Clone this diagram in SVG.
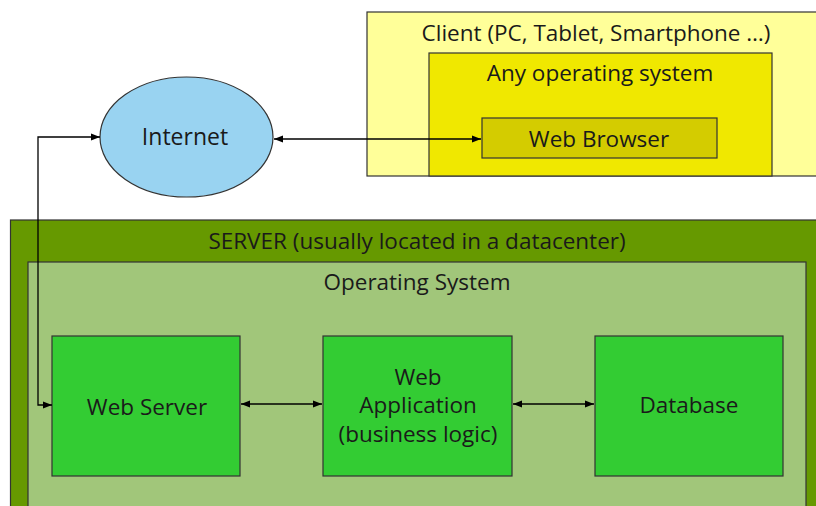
<svg xmlns="http://www.w3.org/2000/svg" width="816" height="506" viewBox="0 0 816 506">
<defs>
<marker id="ah" viewBox="0 0 10 10" refX="10" refY="5" markerWidth="9" markerHeight="9" markerUnits="userSpaceOnUse" orient="auto-start-reverse">
<path d="M0,1 L10,5 L0,9 Z" fill="#000"/>
</marker>
<style>
text{font-family:"Open Sans","Liberation Sans",Arial,sans-serif;font-size:22.5px;fill:#1a1a1a;text-anchor:middle;dominant-baseline:central}
.box{stroke:#333;stroke-width:1.2}
.con{fill:none;stroke:#000;stroke-width:1.3}
</style>
</defs>
<rect width="816" height="506" fill="#fff"/>
<g id="client">
<rect class="box" x="367" y="12" width="460" height="164" fill="#ffff99"/>
<text x="596" y="32">Client (PC, Tablet, Smartphone …)</text>
</g>
<g id="client-os">
<rect class="box" x="429" y="53" width="343" height="123" fill="#f0e800"/>
<text x="600" y="72">Any operating system</text>
</g>
<g id="web-browser">
<rect class="box" x="482" y="118" width="235" height="40" fill="#d4cc00"/>
<text x="599" y="138">Web Browser</text>
</g>
<g id="internet">
<ellipse class="box" cx="186.5" cy="137" rx="86.5" ry="60" fill="#99d3f1" stroke="#2a3a4a"/>
<text x="185" y="136" style="font-size:23px">Internet</text>
</g>
<g id="server">
<rect class="box" x="10.5" y="220" width="820" height="300" fill="#669900"/>
<text x="417" y="240">SERVER (usually located in a datacenter)</text>
</g>
<g id="server-os">
<rect class="box" x="28" y="262" width="778" height="260" fill="#a1c67a"/>
<text x="417" y="281">Operating System</text>
</g>
<g id="web-server">
<rect class="box" x="52" y="336" width="188" height="140" fill="#33cc33"/>
<text x="147" y="406">Web Server</text>
</g>
<g id="web-application">
<rect class="box" x="323" y="336" width="189" height="140" fill="#33cc33"/>
<text x="418" y="376">Web</text>
<text x="418" y="404">Application</text>
<text x="418" y="433">(business logic)</text>
</g>
<g id="database">
<rect class="box" x="595" y="336" width="188" height="140" fill="#33cc33"/>
<text x="689" y="404">Database</text>
</g>
<g id="connectors">
<path class="con" d="M274,139 L481,139" marker-start="url(#ah)" marker-end="url(#ah)"/>
<path class="con" d="M52,405 L38,405 L38,137 L100,137" marker-start="url(#ah)" marker-end="url(#ah)"/>
<path class="con" d="M241,404 L322,404" marker-start="url(#ah)" marker-end="url(#ah)"/>
<path class="con" d="M513,404 L594,404" marker-start="url(#ah)" marker-end="url(#ah)"/>
</g>
</svg>
